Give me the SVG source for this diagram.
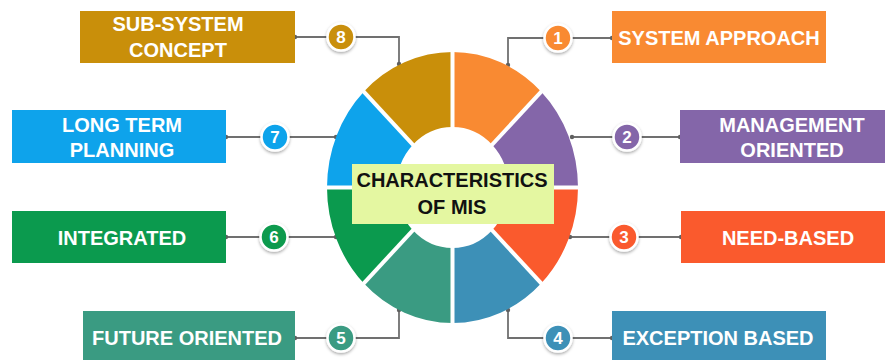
<svg xmlns="http://www.w3.org/2000/svg" width="885" height="360" viewBox="0 0 885 360">
  <defs>
    <filter id="badgeShadow" x="-40%" y="-40%" width="180%" height="180%">
      <feDropShadow dx="0" dy="1.5" stdDeviation="1.5" flood-color="#000" flood-opacity="0.35"/>
    </filter>
  </defs>
  <style>
    .label { font-family: "Liberation Sans", Arial, sans-serif; font-weight: bold; font-size: 20px; fill: #ffffff; text-anchor: middle; }
    .title { font-family: "Liberation Sans", Arial, sans-serif; font-weight: bold; font-size: 20px; fill: #111111; text-anchor: middle; }
    .num { font-family: "Liberation Sans", Arial, sans-serif; font-weight: bold; font-size: 17px; fill: #ffffff; text-anchor: middle; }
    .badge { stroke: #ffffff; stroke-width: 2.5; filter: url(#badgeShadow); }
    .wire { fill: none; stroke: #707070; stroke-width: 1.8; }
    .dot { fill: #606060; }
    .gap { stroke: #ffffff; stroke-width: 4; vector-effect: non-scaling-stroke; }
    .c1 { fill: #F98A32; } .c2 { fill: #8466A9; } .c3 { fill: #FA5A2D; } .c4 { fill: #3D90B7; }
    .c5 { fill: #3A9B82; } .c6 { fill: #0B9A4E; } .c7 { fill: #0EA3EB; } .c8 { fill: #C98F0A; }
  </style>
  <rect width="885" height="360" fill="#ffffff"/>

  <!-- connectors -->
  <g id="connectors">
    <polyline class="wire" points="612,38 508,38 508,65"/>
    <polyline class="wire" points="572,137 680,137"/>
    <polyline class="wire" points="570,237 681,237"/>
    <polyline class="wire" points="508,310 508,338 612,338"/>
    <polyline class="wire" points="295,338 399,338 399,310"/>
    <polyline class="wire" points="226,237 336,237"/>
    <polyline class="wire" points="226,137 336,137"/>
    <polyline class="wire" points="295,37 399,37 399,64"/>
    <circle class="dot" cx="508" cy="65" r="2.2"/><circle class="dot" cx="612" cy="38" r="2.2"/>
    <circle class="dot" cx="572" cy="137" r="2.2"/><circle class="dot" cx="680" cy="137" r="2.2"/>
    <circle class="dot" cx="570" cy="237" r="2.2"/><circle class="dot" cx="681" cy="237" r="2.2"/>
    <circle class="dot" cx="508" cy="310" r="2.2"/><circle class="dot" cx="612" cy="338" r="2.2"/>
    <circle class="dot" cx="295" cy="338" r="2.2"/><circle class="dot" cx="399" cy="310" r="2.2"/>
    <circle class="dot" cx="226" cy="237" r="2.2"/><circle class="dot" cx="336" cy="237" r="2.2"/>
    <circle class="dot" cx="226" cy="137" r="2.2"/><circle class="dot" cx="336" cy="137" r="2.2"/>
    <circle class="dot" cx="295" cy="37" r="2.2"/><circle class="dot" cx="399" cy="64" r="2.2"/>
  </g>

  <!-- ring of eight segments -->
  <g id="ring" transform="translate(452.5,187.5) scale(1,1.08)">
    <path class="c1" d="M0,-125.5 A125.5,125.5 0 0 1 88.74,-88.74 L39.6,-39.6 A56,56 0 0 0 0,-56 Z"/>
    <path class="c2" d="M88.74,-88.74 A125.5,125.5 0 0 1 125.5,0 L56,0 A56,56 0 0 0 39.6,-39.6 Z"/>
    <path class="c3" d="M125.5,0 A125.5,125.5 0 0 1 88.74,88.74 L39.6,39.6 A56,56 0 0 0 56,0 Z"/>
    <path class="c4" d="M88.74,88.74 A125.5,125.5 0 0 1 0,125.5 L0,56 A56,56 0 0 0 39.6,39.6 Z"/>
    <path class="c5" d="M0,125.5 A125.5,125.5 0 0 1 -88.74,88.74 L-39.6,39.6 A56,56 0 0 0 0,56 Z"/>
    <path class="c6" d="M-88.74,88.74 A125.5,125.5 0 0 1 -125.5,0 L-56,0 A56,56 0 0 0 -39.6,39.6 Z"/>
    <path class="c7" d="M-125.5,0 A125.5,125.5 0 0 1 -88.74,-88.74 L-39.6,-39.6 A56,56 0 0 0 -56,0 Z"/>
    <path class="c8" d="M-88.74,-88.74 A125.5,125.5 0 0 1 0,-125.5 L0,-56 A56,56 0 0 0 -39.6,-39.6 Z"/>
    <!-- white separators between segments -->
    <line class="gap" x1="0" y1="-130" x2="0" y2="130"/>
    <line class="gap" x1="-130" y1="0" x2="130" y2="0"/>
    <line class="gap" x1="-92" y1="-92" x2="92" y2="92"/>
    <line class="gap" x1="92" y1="-92" x2="-92" y2="92"/>
  </g>

  <!-- central title -->
  <g id="center">
    <rect x="352" y="164" width="202" height="60" fill="#E4F7A1"/>
    <text class="title" x="452" y="187">CHARACTERISTICS</text>
    <text class="title" x="452" y="214">OF MIS</text>
  </g>

  <g id="item1">
    <rect class="c1" x="612" y="11" width="214" height="52"/>
    <text class="label" x="719" y="45">SYSTEM APPROACH</text>
    <circle class="badge c1" cx="558" cy="38" r="13.5"/>
    <text class="num" x="558" y="44">1</text>
  </g>

  <g id="item2">
    <rect class="c2" x="680" y="110" width="210" height="53"/>
    <text class="label" x="792" y="132">MANAGEMENT</text>
    <text class="label" x="792" y="157">ORIENTED</text>
    <circle class="badge c2" cx="627" cy="137" r="13.5"/>
    <text class="num" x="627" y="143">2</text>
  </g>

  <g id="item3">
    <rect class="c3" x="681" y="211" width="209" height="52"/>
    <text class="label" x="788" y="245">NEED-BASED</text>
    <circle class="badge c3" cx="624" cy="237" r="13.5"/>
    <text class="num" x="624" y="243">3</text>
  </g>

  <g id="item4">
    <rect class="c4" x="612" y="311" width="214" height="55"/>
    <text class="label" x="718" y="345">EXCEPTION BASED</text>
    <circle class="badge c4" cx="558" cy="338" r="13.5"/>
    <text class="num" x="558" y="344">4</text>
  </g>

  <g id="item5">
    <rect class="c5" x="83" y="311" width="212" height="55"/>
    <text class="label" x="187" y="345">FUTURE ORIENTED</text>
    <circle class="badge c5" cx="341" cy="338" r="13.5"/>
    <text class="num" x="341" y="344">5</text>
  </g>

  <g id="item6">
    <rect class="c6" x="12" y="211" width="214" height="52"/>
    <text class="label" x="122" y="245">INTEGRATED</text>
    <circle class="badge c6" cx="274" cy="237" r="13.5"/>
    <text class="num" x="274" y="243">6</text>
  </g>

  <g id="item7">
    <rect class="c7" x="12" y="110" width="214" height="53"/>
    <text class="label" x="122" y="132">LONG TERM</text>
    <text class="label" x="122" y="157">PLANNING</text>
    <circle class="badge c7" cx="275" cy="137" r="13.5"/>
    <text class="num" x="275" y="143">7</text>
  </g>

  <g id="item8">
    <rect class="c8" x="80" y="11" width="215" height="52"/>
    <text class="label" x="178" y="31">SUB-SYSTEM</text>
    <text class="label" x="178" y="57">CONCEPT</text>
    <circle class="badge c8" cx="341" cy="37" r="13.5"/>
    <text class="num" x="341" y="43">8</text>
  </g>
</svg>
